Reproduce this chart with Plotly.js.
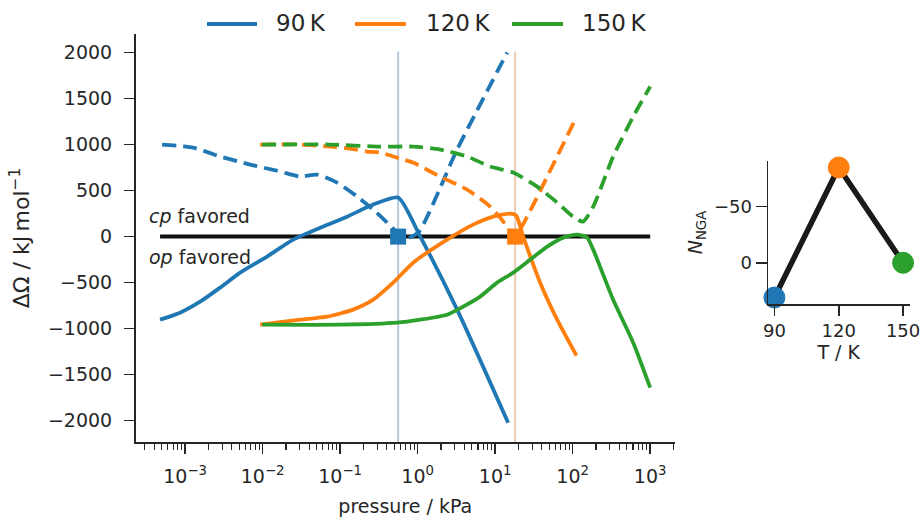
<!DOCTYPE html>
<html>
<head>
<meta charset="utf-8">
<script src="https://cdn.plot.ly/plotly-3.0.1.min.js"></script>
<style>html,body{margin:0;padding:0;background:#fff;}#chart{width:921px;height:517px;}</style>
</head>
<body>
<div id="chart"></div>
<script>
// ---------- data (pressure in kPa, ΔΩ in kJ/mol) ----------
const p90Solid = [4.75e-4, 8.61e-4, 1.56e-3, 2.83e-3, 5.13e-3, 1.14e-2, 2.48e-2, 6.04e-2, 0.123, 0.267, 0.56, 1.08, 3.23, 14.7];
const dO90Solid = [-902, -826, -707, -554, -391, -217, -33, 109, 217, 348, 424, 0, -793, -2022];
const p90Dash = [5.05e-4, 1.27e-3, 2.83e-3, 6.90e-3, 1.68e-2, 3.05e-2, 5.05e-2, 9.14e-2, 0.166, 0.267, 0.404, 0.544, 0.69, 1.015, 3.23, 14.3];
const dO90Dash = [1000, 967, 870, 783, 707, 652, 674, 587, 435, 293, 152, 43, -20, 43, 946, 2000];

const p120Solid = [9.29e-3, 3.05e-2, 6.79e-2, 0.147, 0.267, 0.483, 0.875, 2.40, 5.20, 9.42, 15.6, 18.7, 23.0, 38.1, 63.1, 112];
const dO120Solid = [-957, -902, -870, -793, -685, -500, -283, -33, 130, 217, 250, 228, 0, -500, -902, -1293];
const p120Dash = [9.29e-3, 3.05e-2, 7.43e-2, 0.135, 0.223, 0.328, 0.65, 0.875, 1.95, 4.35, 8.62, 14.3, 17.6, 25.9, 46.9, 108];
const dO120Dash = [1000, 1000, 978, 957, 924, 913, 837, 804, 652, 511, 326, 109, -10, 217, 652, 1272];

const p150Solid = [9.86e-3, 0.1, 0.544, 1.08, 2.40, 3.86, 6.40, 10.6, 17.1, 28.3, 46.9, 75.4, 114, 154, 184, 333, 604, 1000];
const dO150Solid = [-957, -957, -935, -902, -848, -761, -652, -500, -391, -250, -109, -11, 22, -11, -141, -685, -1152, -1641];
const p150Dash = [9.86e-3, 7.43e-2, 0.328, 0.875, 1.95, 4.35, 8.62, 17.1, 34.8, 63.1, 101, 136, 184, 333, 604, 1000];
const dO150Dash = [1000, 1000, 978, 978, 946, 870, 761, 696, 543, 370, 217, 163, 326, 870, 1304, 1630];

const zeroLineP = [4.75e-4, 1000];
const zeroLineV = [0, 0];
const transitionP = [0.56, 18.1];      // transition pressures (90 K, 120 K)
const transitionV = [0, 0];
const verticalTop = 2010;

const temps = [90, 120, 150];
const nNGA = [31, -85, 0];
const seriesLabels = ['90\u2009K', '120\u2009K', '150\u2009K'];
const colors = ['#1f77b4', '#ff7f0e', '#2ca02c'];
const vlineColors = ['#b8c9dc', '#eccbb3'];

const xTickVals = [1e-3, 1e-2, 1e-1, 1, 10, 100, 1000];
const xTickText = ['10<sup>\u22123</sup>', '10<sup>\u22122</sup>', '10<sup>\u22121</sup>', '10<sup>0</sup>', '10<sup>1</sup>', '10<sup>2</sup>', '10<sup>3</sup>'];
const yTickVals = [-2000, -1500, -1000, -500, 0, 500, 1000, 1500, 2000];
const insetYTicks = [-50, 0];

// ---------- build ----------
const W = 921, H = 517;
const px = x => x / W, py = y => 1 - y / H;
const ink = '#262626';
const FONT = 'DejaVu Sans';

const minorVals = [];
for (let e = -4; e <= 3; e++) for (let m = 2; m <= 9; m++) minorVals.push(m * Math.pow(10, e));

const traces = [];
transitionP.forEach((p, i) => {
  traces.push({x: [p, p], y: [-2300, verticalTop], mode: 'lines', line: {color: vlineColors[i], width: 2}, xaxis: 'x', yaxis: 'y', hoverinfo: 'skip'});
});
traces.push({x: zeroLineP, y: zeroLineV, mode: 'lines', line: {color: '#111', width: 4}, xaxis: 'x', yaxis: 'y'});

const solids = [[p90Solid, dO90Solid], [p120Solid, dO120Solid], [p150Solid, dO150Solid]];
const dashes = [[p90Dash, dO90Dash], [p120Dash, dO120Dash], [p150Dash, dO150Dash]];
for (let i = 0; i < 3; i++) {
  traces.push({x: dashes[i][0], y: dashes[i][1], mode: 'lines', line: {color: colors[i], width: 3.8, dash: '14px,7px', shape: 'spline', smoothing: 0.6}, xaxis: 'x', yaxis: 'y'});
  traces.push({x: solids[i][0], y: solids[i][1], mode: 'lines', line: {color: colors[i], width: 3.8, shape: 'spline', smoothing: 0.6}, xaxis: 'x', yaxis: 'y', name: seriesLabels[i]});
}
traces.push({x: transitionP, y: transitionV, mode: 'markers', marker: {symbol: 'square', size: 16, color: [colors[0], colors[1]], line: {width: 0}}, xaxis: 'x', yaxis: 'y', cliponaxis: false});

traces.push({x: temps, y: nNGA, mode: 'lines', line: {color: '#1a1a1a', width: 5.5}, xaxis: 'x2', yaxis: 'y2'});
traces.push({x: temps, y: nNGA, mode: 'markers', marker: {size: 21, color: colors, line: {width: 1, color: colors}}, xaxis: 'x2', yaxis: 'y2', cliponaxis: false});

const axisCommon = {
  showgrid: false, zeroline: false, showline: true, linecolor: ink, linewidth: 1.5,
  ticks: 'outside', ticklen: 10, tickwidth: 1.5, tickcolor: ink,
  tickfont: {family: FONT, size: 19, color: ink}, ticklabeloverflow: 'allow'
};

const legendLineX = [[207, 257], [355, 406], [512, 563]];
const legendTextX = [274, 424, 580];
const legendY = 24;
const shapes = legendLineX.map((lx, i) => ({type: 'line', xref: 'paper', yref: 'paper', x0: px(lx[0]), x1: px(lx[1]), y0: py(legendY), y1: py(legendY), line: {color: colors[i], width: 3.8}}));
const annotations = legendTextX.map((tx, i) => ({xref: 'paper', yref: 'paper', x: px(tx), y: py(legendY - 1), xanchor: 'left', yanchor: 'middle', text: seriesLabels[i], showarrow: false, font: {family: FONT, size: 23, color: ink}}));
annotations.push({xref: 'paper', yref: 'paper', x: px(147), y: py(216), xanchor: 'left', yanchor: 'middle', text: '<i>cp</i> favored', showarrow: false, font: {family: FONT, size: 19, color: ink}});
annotations.push({xref: 'paper', yref: 'paper', x: px(147), y: py(257), xanchor: 'left', yanchor: 'middle', text: '<i>op</i> favored', showarrow: false, font: {family: FONT, size: 19, color: ink}});

const insetTickFont = {family: FONT, size: 18, color: ink};

const layout = {
  width: W, height: H, margin: {l: 0, r: 0, t: 0, b: 0},
  paper_bgcolor: '#fff', plot_bgcolor: '#fff',
  font: {family: FONT, size: 19, color: ink},
  showlegend: false,
  xaxis: Object.assign({}, axisCommon, {
    type: 'log', domain: [px(135.5), px(675)], range: [-3.64, 3.32], anchor: 'y',
    tickmode: 'array', tickvals: xTickVals, ticktext: xTickText, ticklabelstandoff: 7,
    minor: {tickmode: 'array', tickvals: minorVals, ticks: 'outside', ticklen: 6, tickwidth: 1.1, tickcolor: ink},
    title: {text: 'pressure / kPa', font: {family: FONT, size: 19, color: ink}, standoff: 21}
  }),
  yaxis: Object.assign({}, axisCommon, {
    domain: [py(442), py(34)], range: [-2231, 2201], anchor: 'x',
    tickmode: 'array', tickvals: yTickVals, ticklabelstandoff: 8,
    title: {text: '\u0394\u03A9 / kJ\u2009mol<sup>\u22121</sup>', font: {family: FONT, size: 22, color: ink}, standoff: 12}
  }),
  xaxis2: Object.assign({}, axisCommon, {
    domain: [px(768), px(909.5)], range: [87, 153], anchor: 'y2',
    tickmode: 'array', tickvals: temps, ticklabelstandoff: 0, tickfont: insetTickFont,
    title: {text: 'T / K', font: {family: FONT, size: 19, color: ink}, standoff: 2}
  }),
  yaxis2: Object.assign({}, axisCommon, {
    domain: [py(304), py(161)], range: [36.8, -90.8], anchor: 'x2', ticklen: 11,
    tickmode: 'array', tickvals: insetYTicks, ticklabelstandoff: 0, tickfont: insetTickFont,
    title: {text: '<i>N</i><sub>NGA</sub>', font: {family: FONT, size: 19, color: ink}, standoff: 6}
  }),
  shapes: shapes,
  annotations: annotations
};

Plotly.newPlot('chart', traces, layout, {staticPlot: true, displayModeBar: false});
</script>
</body>
</html>
